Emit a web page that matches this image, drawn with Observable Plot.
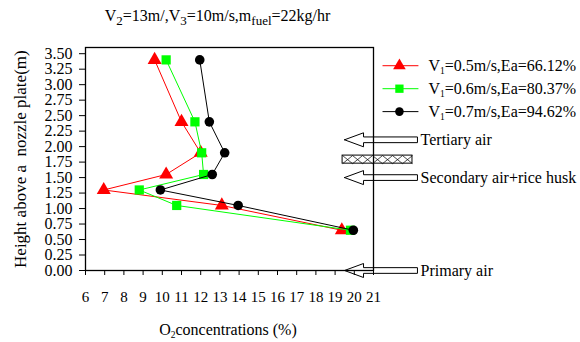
<!DOCTYPE html>
<html>
<head>
<meta charset="utf-8">
<script src="https://cdn.jsdelivr.net/npm/d3@7"></script>
<script src="https://cdn.jsdelivr.net/npm/@observablehq/plot@0.6"></script>
<style>
  html, body { margin: 0; padding: 0; background: white; }
  svg text { font-family: "Liberation Serif", "Times New Roman", serif !important; }
</style>
</head>
<body>
<div id="chart"></div>
<script>
// ---- Data ----
const heights = [3.4, 2.4, 1.9, 1.55, 1.3, 1.05, 0.65];
const o2_v05 = [9.6, 11.0, 12.0, 10.2, 6.95, 13.1, 19.35];
const o2_v06 = [10.2, 11.7, 12.05, 12.15, 8.8, 10.75, 19.8];
const o2_v07 = [11.95, 12.45, 13.25, 12.6, 9.9, 13.95, 19.95];
const seriesNames = ["V_{1}=0.5m/s,Ea=66.12%", "V_{1}=0.6m/s,Ea=80.37%", "V_{1}=0.7m/s,Ea=94.62%"];
const xTicks = [6, 7, 8, 9, 10, 11, 12, 13, 14, 15, 16, 17, 18, 19, 20, 21];
const yTicks = [0, 0.25, 0.5, 0.75, 1, 1.25, 1.5, 1.75, 2, 2.25, 2.5, 2.75, 3, 3.25, 3.5];
const airLabels = ["Tertiary air", "Secondary air+rice husk", "Primary air"];
const airHeights = [2.11, 1.5, 0];
const plateHeight = 1.79;
const titleText = "V_{2}=13m/,V_{3}=10m/s,m_{fuel}=22kg/hr";
const xLabel = "O_{2}concentrations (%)";
const yLabel = "Height above a  nozzle plate(m)";

// ---- Styles ----
const colors = ["#ff0000", "#00ff00", "#000000"];
const symbols = ["triangle", "square", "circle"];
const radii = [5.2, 5.2, 4.8];
const seriesValues = [o2_v05, o2_v06, o2_v07];

const series = seriesNames.map((name, i) => ({
  name, color: colors[i], symbol: symbols[i], r: radii[i],
  pts: heights.map((h, j) => ({x: seriesValues[i][j], y: h}))
}));

// annotation geometry (data units)
const arrowTip = 19.49, arrowHeadBase = 20.48, arrowTail = 23.29;
const headHalf = 0.113, shaftHalf = 0.046;
const arrowPts = [];
airHeights.forEach((h, k) => {
  const poly = [
    [arrowTip, h], [arrowHeadBase, h + headHalf], [arrowHeadBase, h + shaftHalf],
    [arrowTail, h + shaftHalf], [arrowTail, h - shaftHalf], [arrowHeadBase, h - shaftHalf],
    [arrowHeadBase, h - headHalf], [arrowTip, h]
  ];
  poly.forEach(([x, y]) => arrowPts.push({x, y, k}));
});
const plateX1 = 19.39, plateX2 = 23.03, plateHalf = 0.065, nCells = 7;
const cellW = (plateX2 - plateX1) / nCells;
const plateDiag = [];
for (let c = 0; c < nCells; c++) {
  const a = plateX1 + c * cellW, b = a + cellW;
  plateDiag.push({x1: a, y1: plateHeight - plateHalf, x2: b, y2: plateHeight + plateHalf});
  plateDiag.push({x1: a, y1: plateHeight + plateHalf, x2: b, y2: plateHeight - plateHalf});
}
const labelX = 23.45;

// legend geometry (data units)
const legY = [3.306, 2.935, 2.565];
const legX1 = 21.47, legX2 = 23.34, legXm = 22.35, legXt = 23.86;
const legend = series.map((s, i) => ({...s, y: legY[i]}));

const marks = [
  Plot.frame({stroke: "black", strokeWidth: 1.3}),
  Plot.axisX(xTicks, {tickSize: 5, tickPadding: 16, fontSize: 15, label: null}),
  Plot.axisY(yTicks, {tickSize: 6, tickPadding: 7, fontSize: 16, tickFormat: d3.format(".2f"), label: null}),
];
series.forEach(s => {
  marks.push(Plot.line(s.pts, {x: "x", y: "y", stroke: s.color, strokeWidth: 1}));
  marks.push(Plot.dot(s.pts, {x: "x", y: "y", fill: s.color, symbol: s.symbol, r: s.r, stroke: "none"}));
});
// legend
legend.forEach(s => {
  marks.push(Plot.link([s], {x1: () => legX1, x2: () => legX2, y1: "y", y2: "y", stroke: s.color, strokeWidth: 1}));
  marks.push(Plot.dot([s], {x: () => legXm, y: "y", fill: s.color, symbol: s.symbol, r: s.r * 0.9, stroke: "none"}));
  marks.push(Plot.text([s], {x: () => legXt, y: "y", text: "name", textAnchor: "start", lineAnchor: "middle", fontSize: 16, fill: "black"}));
});
// annotations
marks.push(Plot.line(arrowPts, {x: "x", y: "y", z: "k", stroke: "black", strokeWidth: 1}));
marks.push(Plot.rect([0], {x1: () => plateX1, x2: () => plateX2, y1: () => plateHeight - plateHalf, y2: () => plateHeight + plateHalf, fill: "none", stroke: "black", strokeWidth: 1}));
marks.push(Plot.link(plateDiag, {x1: "x1", y1: "y1", x2: "x2", y2: "y2", stroke: "black", strokeWidth: 0.7}));
marks.push(Plot.text(airLabels.map((t, i) => ({t, y: airHeights[i]})), {x: () => labelX, y: "y", text: "t", textAnchor: "start", lineAnchor: "middle", fontSize: 16, fill: "black"}));
// title & axis labels
marks.push(Plot.text([titleText], {x: () => 12.875, y: () => 4.02, text: d => d, textAnchor: "middle", lineAnchor: "bottom", fontSize: 16, fill: "black"}));
marks.push(Plot.text([xLabel], {x: () => 13.42, y: () => -1.045, text: d => d, textAnchor: "middle", lineAnchor: "bottom", fontSize: 16, fill: "black"}));
marks.push(Plot.text([yLabel], {x: () => 2.615, y: () => 1.798, text: d => d, textAnchor: "middle", lineAnchor: "middle", rotate: -90, fontSize: 17, fill: "black"}));

const svg = Plot.plot({
  width: 580, height: 342,
  marginLeft: 85, marginRight: 207, marginTop: 47, marginBottom: 72,
  x: {domain: [6, 21]},
  y: {domain: [0, 3.6]},
  style: {fontFamily: "Liberation Serif, serif", fontSize: "16px", color: "black", background: "white", overflow: "visible"},
  marks
});

const FONT = "'Liberation Serif', 'Times New Roman', serif";
d3.select(svg).attr("font-family", FONT).style("font-family", FONT);

// subscripts
d3.select(svg).selectAll("text").each(function() {
  const el = this;
  const t = el.textContent;
  if (!t.includes("_{")) return;
  const big = t === titleText;
  const fs = big ? 13 : 9.5, shift = big ? 4 : 3;
  while (el.firstChild) el.removeChild(el.firstChild);
  const parts = t.split(/(_\{[^}]*\})/).filter(p => p);
  let down = false;
  for (const p of parts) {
    const ts = document.createElementNS("http://www.w3.org/2000/svg", "tspan");
    if (p.startsWith("_{")) {
      ts.textContent = p.slice(2, -1);
      ts.setAttribute("font-size", fs + "px");
      ts.setAttribute("dy", String(shift));
      down = true;
    } else {
      ts.textContent = p;
      if (down) { ts.setAttribute("dy", String(-shift)); down = false; }
    }
    el.appendChild(ts);
  }
});
d3.select(svg).selectAll("text").filter(function(){ return this.textContent.includes("  "); }).style("white-space", "pre");

document.getElementById("chart").appendChild(svg);
</script>
</body>
</html>
